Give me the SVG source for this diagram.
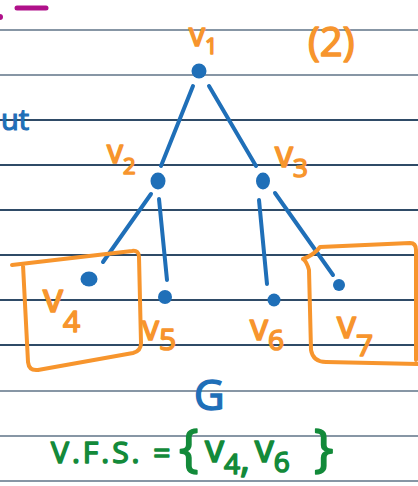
<svg xmlns="http://www.w3.org/2000/svg" width="418" height="486" viewBox="0 0 418 486">
<style>
.rule{stroke-width:2;fill:none}
.light{stroke:#8796a5}
.dark{stroke:#2f4b67}
.edge{stroke:#1f6fb8;stroke-width:4;stroke-linecap:round;fill:none}
.node{fill:#1f6fb8}
.lbl{fill:#f7952d;stroke:#f7952d;stroke-width:1.6;stroke-linejoin:round;font-family:"Open Sans","Liberation Sans",sans-serif}
.box{stroke:#f7952d;stroke-width:4;fill:none;stroke-linecap:round;stroke-linejoin:round}
.grn{fill:#138a3a;stroke:#138a3a;stroke-width:1.6;stroke-linejoin:round;font-family:"Open Sans","Liberation Sans",sans-serif}
</style>
<rect width="418" height="486" fill="#ffffff"/>
<g id="rules">
<line class="rule light" x1="0" y1="30" x2="418" y2="30"/>
<line class="rule light" x1="0" y1="75" x2="418" y2="75"/>
<line class="rule dark" x1="0" y1="120" x2="418" y2="120"/>
<line class="rule dark" x1="0" y1="165" x2="418" y2="165"/>
<line class="rule dark" x1="0" y1="210" x2="418" y2="210"/>
<line class="rule dark" x1="0" y1="255" x2="418" y2="255"/>
<line class="rule dark" x1="0" y1="300" x2="418" y2="300"/>
<line class="rule dark" x1="0" y1="345" x2="418" y2="345"/>
<line class="rule light" x1="0" y1="391" x2="418" y2="391"/>
<line class="rule light" x1="0" y1="436" x2="418" y2="436"/>
<line class="rule light" x1="0" y1="481" x2="418" y2="481"/>
</g>
<g id="marks">
<circle cx="0" cy="17" r="3" fill="#b0108a"/>
<line x1="17" y1="8" x2="46" y2="8" stroke="#b0108a" stroke-width="5" stroke-linecap="round"/>
<text x="1" y="130" font-family="Open Sans, Liberation Sans, sans-serif" font-size="29" fill="#1f6fb8" stroke="#1f6fb8" stroke-width="1.2">ut</text>
<text x="308" y="56" class="lbl" font-size="40" stroke-width="1">(2)</text>
</g>
<g id="connectors">
<line class="edge" x1="193" y1="86" x2="161" y2="166"/>
<line class="edge" x1="209" y1="86" x2="256" y2="166"/>
<line class="edge" x1="151" y1="194" x2="103" y2="262"/>
<line class="edge" x1="159" y1="199" x2="167" y2="280"/>
<line class="edge" x1="259" y1="200" x2="267" y2="284"/>
<line class="edge" x1="275" y1="193" x2="333" y2="275"/>
</g>
<g id="v1"><circle class="node" cx="199" cy="71" r="7.5"/><text class="lbl" x="189" y="46" font-size="32">v<tspan font-size="22" dy="8">1</tspan></text></g>
<g id="v2"><ellipse class="node" cx="158" cy="181" rx="7.5" ry="8.5"/><text class="lbl" x="107" y="163" font-size="32">v<tspan font-size="22" dy="11">2</tspan></text></g>
<g id="v3"><ellipse class="node" cx="263" cy="181" rx="7" ry="8.5"/><text class="lbl" x="275" y="167" font-size="36">v<tspan font-size="26" dy="10">3</tspan></text></g>
<g id="v4"><ellipse class="node" cx="89" cy="279" rx="8.5" ry="7.5"/><text class="lbl" x="43" y="312" font-size="40">v<tspan font-size="30" dy="20">4</tspan></text></g>
<g id="v5"><circle class="node" cx="165" cy="297" r="7"/><text class="lbl" x="142" y="340" font-size="34">v<tspan font-size="30" dy="10">5</tspan></text></g>
<g id="v6"><circle class="node" cx="274" cy="300" r="6.5"/><text class="lbl" x="250" y="340" font-size="36">v<tspan font-size="28" dy="10">6</tspan></text></g>
<g id="v7"><circle class="node" cx="339" cy="285" r="6"/><text class="lbl" x="337" y="338" font-size="38">v<tspan font-size="30" dy="18">7</tspan></text></g>
<g id="box-v4"><path class="box" d="M12 265 L132 251 Q139 250 139 257 L141 343 Q141 351 133 353 L38 370 Q29 371 28 362 L23 265"/></g>
<g id="box-v7"><path class="box" d="M303 259 Q314 255 320 247 L410 243 Q416 243 416 250 L416 360 M303 259 Q307 262 309 270 L311 350 Q313 362 326 362 L418 364"/></g>
<g id="G"><text x="194" y="410" font-family="Open Sans, Liberation Sans, sans-serif" font-size="42" fill="#1f6fb8" stroke="#1f6fb8" stroke-width="1.5">G</text></g>
<g id="vfs">
<text class="grn" x="51" y="463" font-size="30" letter-spacing="3">V.F.S. =</text>
<text class="grn" x="179" y="466" font-size="52" stroke-width="1">{</text>
<text class="grn" x="205" y="462" font-size="38">v<tspan font-size="28" dy="12">4</tspan><tspan dy="-2">,</tspan><tspan dx="5" dy="-10">v</tspan><tspan font-size="28" dy="10">6</tspan></text>
<text class="grn" x="314" y="466" font-size="52" stroke-width="1">}</text>
</g>
</svg>
